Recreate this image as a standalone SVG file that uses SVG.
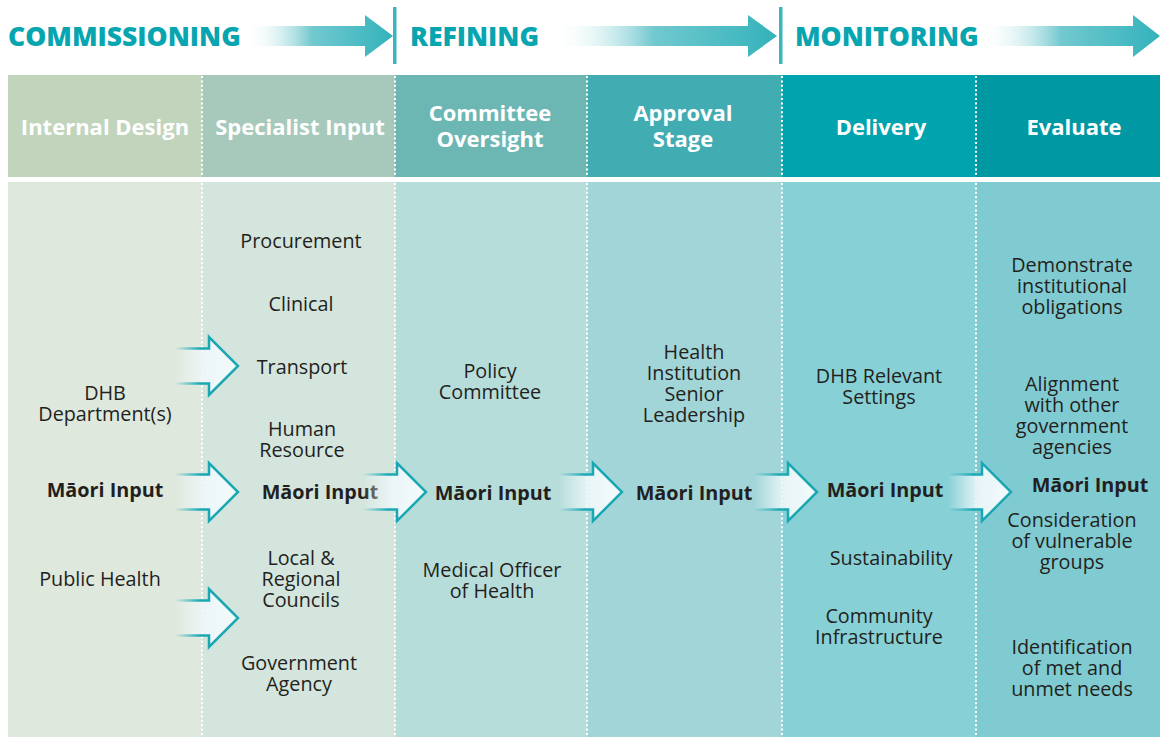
<svg xmlns="http://www.w3.org/2000/svg" xmlns:xlink="http://www.w3.org/1999/xlink" width="1160" height="737" viewBox="0 0 1160 737">
<style>
.ban{font-family:"Open Sans","Liberation Sans",sans-serif;font-weight:800;font-size:26.5px;fill:#07a5b0}
.hd{font-family:"Open Sans","Liberation Sans",sans-serif;font-weight:700;font-size:22px;fill:#ffffff;text-anchor:middle}
.tx{font-family:"Open Sans","Liberation Sans",sans-serif;font-size:19.8px;fill:#231f20;text-anchor:middle}
.bd{font-family:"Open Sans","Liberation Sans",sans-serif;font-weight:700;font-size:19.8px;fill:#231f20;text-anchor:middle}
.dot{stroke:#ffffff;stroke-width:2;stroke-dasharray:2 2.4;fill:none}
</style>
<defs>
<linearGradient id="banG" x1="0" y1="0" x2="1" y2="0">
<stop offset="0" stop-color="#ffffff" stop-opacity="0"/>
<stop offset="0.45" stop-color="#72c9cf"/>
<stop offset="1" stop-color="#33b2bb"/>
</linearGradient>
<linearGradient id="arF" x1="0" y1="0" x2="1" y2="0">
<stop offset="0" stop-color="#f2f9fb" stop-opacity="0"/>
<stop offset="0.5" stop-color="#eef7f9" stop-opacity="0.95"/>
<stop offset="1" stop-color="#f3fafc"/>
</linearGradient>
<linearGradient id="arS" x1="0" y1="0" x2="1" y2="0">
<stop offset="0" stop-color="#19a8b3" stop-opacity="0"/>
<stop offset="0.4" stop-color="#19a8b3"/>
<stop offset="1" stop-color="#19a8b3"/>
</linearGradient>
<g id="arrow">
<path d="M-63 -17.5 L-29 -17.5 L-29 -29 L0 0 L-29 29 L-29 17.5 L-63 17.5 Z" fill="url(#arF)"/>
<path d="M-63 -17.5 L-29 -17.5 L-29 -29 L0 0 L-29 29 L-29 17.5 L-63 17.5" fill="none" stroke="url(#arS)" stroke-width="2.5" stroke-linejoin="miter"/>
</g>
</defs>
<rect width="1160" height="737" fill="#ffffff"/>

<g id="banner">
<text class="ban" x="8" y="45.5">COMMISSIONING</text>
<path d="M245 26 L365 26 L365 15 L393 36 L365 57 L365 46 L245 46 Z" fill="url(#banG)"/>
<rect x="393" y="7" width="3.5" height="57" fill="#3bb5be"/>
<text class="ban" x="410" y="45.5">REFINING</text>
<path d="M552 26 L748 26 L748 15 L777 36 L748 57 L748 46 L552 46 Z" fill="url(#banG)"/>
<rect x="779" y="7" width="3.5" height="57" fill="#3bb5be"/>
<text class="ban" x="795" y="45.5">MONITORING</text>
<path d="M980 26 L1133 26 L1133 15 L1160 36 L1133 57 L1133 46 L980 46 Z" fill="url(#banG)"/>
</g>

<g id="columns">
<rect x="8" y="75" width="194" height="102" fill="#c1d4bc"/>
<rect x="202" y="75" width="193" height="102" fill="#a7c9bb"/>
<rect x="395" y="75" width="192" height="102" fill="#6cb7b4"/>
<rect x="587" y="75" width="195" height="102" fill="#42acb3"/>
<rect x="782" y="75" width="194" height="102" fill="#00a4af"/>
<rect x="976" y="75" width="184" height="102" fill="#0098a3"/>
<rect x="8" y="182" width="194" height="555" fill="#dfe8dd"/>
<rect x="202" y="182" width="193" height="555" fill="#d3e5dd"/>
<rect x="395" y="182" width="192" height="555" fill="#b7dddb"/>
<rect x="587" y="182" width="195" height="555" fill="#a1d5d8"/>
<rect x="782" y="182" width="194" height="555" fill="#87d0d6"/>
<rect x="976" y="182" width="184" height="555" fill="#80cbd2"/>
<path class="dot" d="M202 76 V177 M395 76 V177 M587 76 V177 M782 76 V177 M976 76 V177 M202 183 V737 M395 183 V737 M587 183 V737 M782 183 V737 M976 183 V737"/>
</g>

<g id="headers">
<text class="hd" x="105" y="135">Internal Design</text>
<text class="hd" x="300" y="135">Specialist Input</text>
<text class="hd" x="490" y="121">Committee</text>
<text class="hd" x="490" y="147">Oversight</text>
<text class="hd" x="683" y="121">Approval</text>
<text class="hd" x="683" y="147">Stage</text>
<text class="hd" x="881" y="135">Delivery</text>
<text class="hd" x="1074" y="135">Evaluate</text>
</g>

<g id="n-dhb-department"><text class="tx" x="105" y="400">DHB</text><text class="tx" x="105" y="421">Department(s)</text></g>
<g id="n-maori-1"><text class="bd" x="105" y="497">Māori Input</text></g>
<g id="n-public-health"><text class="tx" x="100" y="586">Public Health</text></g>

<g id="n-procurement"><text class="tx" x="301" y="248">Procurement</text></g>
<g id="n-clinical"><text class="tx" x="301" y="311">Clinical</text></g>
<g id="n-transport"><text class="tx" x="302" y="374">Transport</text></g>
<g id="n-human-resource"><text class="tx" x="302" y="436">Human</text><text class="tx" x="302" y="457">Resource</text></g>
<g id="n-maori-2"><text class="bd" x="320" y="499">Māori Input</text></g>
<g id="n-councils"><text class="tx" x="301" y="565">Local &amp;</text><text class="tx" x="301" y="586">Regional</text><text class="tx" x="301" y="607">Councils</text></g>
<g id="n-government-agency"><text class="tx" x="299" y="670">Government</text><text class="tx" x="299" y="691">Agency</text></g>

<g id="n-policy-committee"><text class="tx" x="490" y="378">Policy</text><text class="tx" x="490" y="399">Committee</text></g>
<g id="n-maori-3"><text class="bd" x="493" y="500">Māori Input</text></g>
<g id="n-moh"><text class="tx" x="492" y="577">Medical Officer</text><text class="tx" x="492" y="598">of Health</text></g>

<g id="n-senior-leadership"><text class="tx" x="694" y="359">Health</text><text class="tx" x="694" y="380">Institution</text><text class="tx" x="694" y="401">Senior</text><text class="tx" x="694" y="422">Leadership</text></g>
<g id="n-maori-4"><text class="bd" x="694" y="500">Māori Input</text></g>

<g id="n-dhb-settings"><text class="tx" x="879" y="383">DHB Relevant</text><text class="tx" x="879" y="404">Settings</text></g>
<g id="n-maori-5"><text class="bd" x="885" y="497">Māori Input</text></g>
<g id="n-sustainability"><text class="tx" x="891" y="565">Sustainability</text></g>
<g id="n-community"><text class="tx" x="879" y="623">Community</text><text class="tx" x="879" y="644">Infrastructure</text></g>

<g id="n-obligations"><text class="tx" x="1072" y="272">Demonstrate</text><text class="tx" x="1072" y="293">institutional</text><text class="tx" x="1072" y="314">obligations</text></g>
<g id="n-alignment"><text class="tx" x="1072" y="391">Alignment</text><text class="tx" x="1072" y="412">with other</text><text class="tx" x="1072" y="433">government</text><text class="tx" x="1072" y="454">agencies</text></g>
<g id="n-maori-6"><text class="bd" x="1090" y="492">Māori Input</text></g>
<g id="n-vulnerable"><text class="tx" x="1072" y="527">Consideration</text><text class="tx" x="1072" y="548">of vulnerable</text><text class="tx" x="1072" y="569">groups</text></g>
<g id="n-needs"><text class="tx" x="1072" y="654">Identification</text><text class="tx" x="1072" y="675">of met and</text><text class="tx" x="1072" y="696">unmet needs</text></g>

<g id="connectors">
<use xlink:href="#arrow" href="#arrow" transform="translate(238 366)"/>
<use xlink:href="#arrow" href="#arrow" transform="translate(238 492)"/>
<use xlink:href="#arrow" href="#arrow" transform="translate(238 618)"/>
<use xlink:href="#arrow" href="#arrow" transform="translate(426 492)"/>
<use xlink:href="#arrow" href="#arrow" transform="translate(622 492)"/>
<use xlink:href="#arrow" href="#arrow" transform="translate(817 492)"/>
<use xlink:href="#arrow" href="#arrow" transform="translate(1011 492)"/>
</g>
</svg>
